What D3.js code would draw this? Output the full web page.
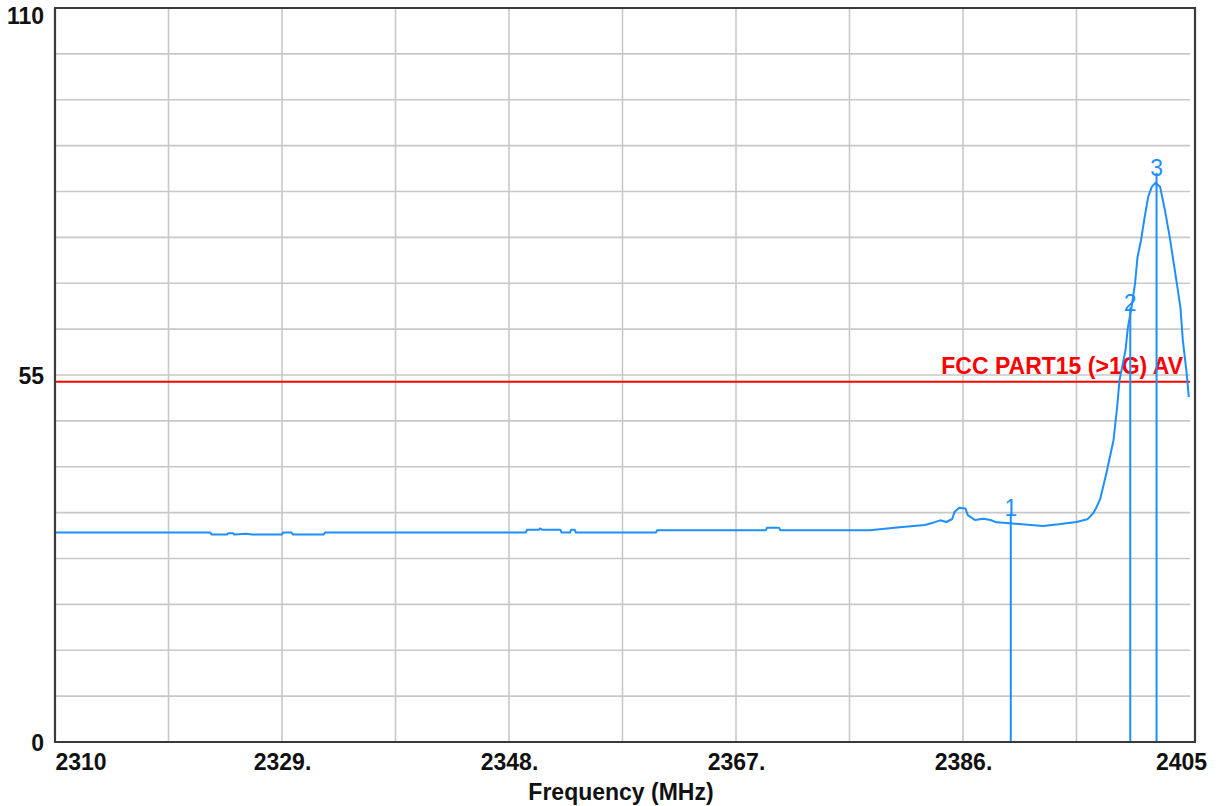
<!DOCTYPE html>
<html>
<head>
<meta charset="utf-8">
<script src="https://cdn.jsdelivr.net/npm/d3@7"></script>
<style>
  html, body { margin: 0; padding: 0; background: #ffffff; }
  svg { display: block; }
  text { font-family: "Liberation Sans", Arial, sans-serif; }
</style>
</head>
<body>
<svg id="chart" width="1220" height="806"></svg>
<script>
// ---- data ----
const xDomain = [2310, 2405];
const yDomain = [0, 110];
const xTickValues = [2310, 2329, 2348, 2367, 2386, 2405];
const xTickLabels = ["2310", "2329.", "2348.", "2367.", "2386.", "2405"];
const yTickValues = [0, 55, 110];
const yTickLabels = ["0", "55", "110"];
const xTitle = "Frequency (MHz)";

const limitLevel = 54;
const limitLabel = "FCC PART15 (>1G) AV";

const traceFreq = [
  2310.0, 2323.0, 2323.1, 2324.4, 2324.5, 2324.9, 2325.0, 2326.0, 2326.5, 2329.0,
  2329.1, 2329.8, 2329.9, 2332.5, 2332.6, 2349.4, 2349.5, 2350.5, 2350.6, 2350.8,
  2352.3, 2352.4, 2353.1, 2353.2, 2353.5, 2353.6, 2360.3, 2360.4, 2369.5, 2369.6,
  2370.6, 2370.7, 2378.2, 2380.7, 2382.8, 2383.5, 2384.1, 2384.6, 2385.1, 2385.3,
  2385.7, 2386.2, 2386.4, 2387.0, 2387.7, 2388.3, 2388.8, 2389.9, 2392.7, 2394.0,
  2395.5, 2396.4, 2396.9, 2397.2, 2397.5, 2397.8, 2398.0, 2398.3, 2398.6, 2398.9,
  2399.1, 2399.6, 2399.8, 2400.1, 2400.4, 2400.6, 2400.9, 2401.2, 2401.5, 2401.8,
  2402.1, 2402.5, 2402.9, 2403.3, 2403.6, 2403.9, 2404.2, 2404.4, 2404.7, 2404.9
];
const traceLevel = [
  31.4, 31.4, 31.1, 31.1, 31.3, 31.3, 31.1, 31.2, 31.1, 31.1,
  31.4, 31.4, 31.1, 31.1, 31.4, 31.4, 31.8, 31.8, 32.0, 31.8,
  31.8, 31.4, 31.4, 31.8, 31.8, 31.4, 31.4, 31.75, 31.75, 32.1,
  32.1, 31.75, 31.75, 32.17, 32.52, 32.87, 33.22, 32.97, 33.42, 34.52,
  35.12, 35.0, 34.0, 33.27, 33.47, 33.27, 32.92, 32.77, 32.37, 32.62,
  32.97, 33.37, 34.27, 35.26, 36.52, 38.77, 40.27, 42.76, 45.26, 50.2,
  54.2, 58.7, 62.1, 65.1, 68.7, 72.6, 75.2, 78.6, 81.7, 83.2,
  83.8, 83.2, 79.7, 75.7, 72.2, 68.7, 65.1, 60.2, 55.6, 51.7
];

const markerNames = ["1", "2", "3"];
const markerFreq = [2390.0, 2400.0, 2402.2];
const markerLevel = [32.8, 63.6, 83.8];

(function () {
// ---- layout ----
const svg = d3.select("#chart");
const pLeft = 55, pRight = 1190, pTop = 8, pBottom = 742, frameRight = 1195;
const x = d3.scaleLinear().domain(xDomain).range([pLeft, pRight]);
const y = d3.scaleLinear().domain(yDomain).range([pBottom, pTop]);

const gridColor = "#c8c8c8";
const traceColor = "#1e8fff";

// vertical grid (10 divisions)
const vGrid = d3.range(1, 10).map(i => xDomain[0] + i * (xDomain[1] - xDomain[0]) / 10);
svg.append("g").selectAll("line").data(vGrid).join("line")
  .attr("x1", d => x(d)).attr("x2", d => x(d))
  .attr("y1", pTop).attr("y2", pBottom)
  .attr("stroke", gridColor).attr("stroke-width", 1.6);

// horizontal grid (16 divisions)
const hGrid = d3.range(1, 16).map(i => yDomain[0] + i * (yDomain[1] - yDomain[0]) / 16);
svg.append("g").selectAll("line").data(hGrid).join("line")
  .attr("x1", pLeft).attr("x2", pRight)
  .attr("y1", d => y(d)).attr("y2", d => y(d))
  .attr("stroke", gridColor).attr("stroke-width", 1.6);

// limit line
svg.append("line")
  .attr("x1", pLeft).attr("x2", pRight)
  .attr("y1", y(limitLevel)).attr("y2", y(limitLevel))
  .attr("stroke", "#ff0000").attr("stroke-width", 2);
svg.append("text")
  .attr("x", 1183).attr("y", y(limitLevel) - 8)
  .attr("text-anchor", "end")
  .attr("font-size", 23).attr("font-weight", "bold")
  .attr("fill", "#ff0000")
  .text(limitLabel);

// markers
const markers = markerNames.map((n, i) => ({ n, f: markerFreq[i], v: markerLevel[i] }));
svg.append("g").selectAll("line").data(markers).join("line")
  .attr("x1", d => x(d.f)).attr("x2", d => x(d.f))
  .attr("y1", d => y(d.v) - 10).attr("y2", pBottom)
  .attr("stroke", traceColor).attr("stroke-width", 2);
svg.append("g").selectAll("text").data(markers).join("text")
  .attr("x", d => x(d.f)).attr("y", d => y(d.v) - 7)
  .attr("text-anchor", "middle")
  .attr("font-size", 23)
  .attr("fill", traceColor)
  .text(d => d.n);

// trace
const pts = traceFreq.map((f, i) => [f, traceLevel[i]]);
svg.append("path")
  .datum(pts)
  .attr("fill", "none")
  .attr("stroke", traceColor)
  .attr("stroke-width", 2)
  .attr("stroke-linejoin", "round")
  .attr("d", d3.line().x(d => x(d[0])).y(d => y(d[1])));

// frame
svg.append("path")
  .attr("d", `M${pLeft},${pTop}H${frameRight}V${pBottom}H${pLeft}Z`)
  .attr("fill", "none").attr("stroke", "#3a3a3a").attr("stroke-width", 2.2);

// x axis labels
const xAxis = d3.axisBottom(x).tickValues(xTickValues)
  .tickFormat((d, i) => xTickLabels[i]).tickSize(0).tickPadding(0);
const gx = svg.append("g").attr("transform", `translate(0,${pBottom})`).call(xAxis);
gx.select(".domain").remove();
gx.selectAll("text")
  .attr("y", 28).attr("dy", null)
  .attr("font-size", 23).attr("font-weight", "bold")
  .attr("fill", "#111").attr("font-family", "'Liberation Sans', Arial, sans-serif")
  .attr("text-anchor", (d, i) => i === 0 ? "start" : "middle")
  .attr("dx", (d, i) => i === xTickValues.length - 1 ? -9 : 0);

// y axis labels
const yAxis = d3.axisLeft(y).tickValues(yTickValues)
  .tickFormat((d, i) => yTickLabels[i]).tickSize(0).tickPadding(0);
const gy = svg.append("g").attr("transform", `translate(44,0)`).call(yAxis);
gy.select(".domain").remove();
gy.selectAll("text")
  .attr("x", 0)
  .attr("dy", d => d === yDomain[1] ? "0.4em" : "0.36em")
  .attr("y", d => d === yDomain[1] ? 6 : 0)
  .attr("font-size", 23).attr("font-weight", "bold")
  .attr("fill", "#111").attr("font-family", "'Liberation Sans', Arial, sans-serif");

// x title
svg.append("text")
  .attr("x", 621).attr("y", 800)
  .attr("text-anchor", "middle")
  .attr("font-size", 23).attr("font-weight", "bold")
  .attr("fill", "#111")
  .text(xTitle);
})();
</script>
</body>
</html>
